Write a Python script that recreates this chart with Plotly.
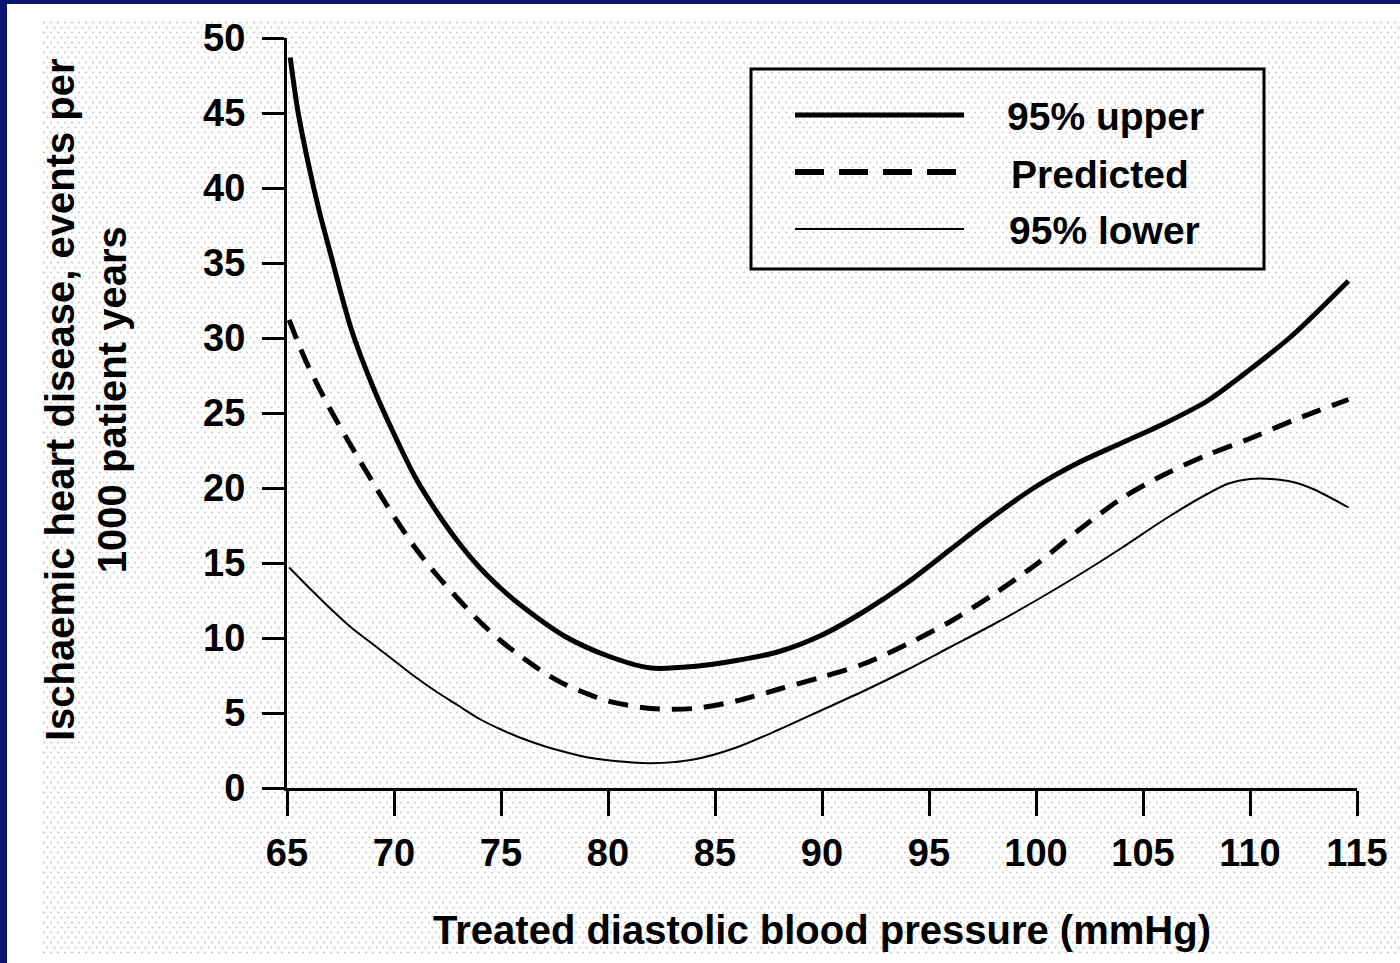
import base64
import plotly.graph_objects as go

# Treated diastolic blood pressure (mmHg) and ischaemic heart disease rate per 1000 patient years
bp_upper = [65.15, 65.5, 66, 66.5, 67, 68, 69, 70, 71, 72, 73, 74, 75, 76, 78, 80, 82, 84,
            86, 88, 90, 92, 94, 96, 98, 100, 102, 104, 106, 108, 110, 112, 114.6]
upper_95 = [48.7, 45.2, 41.6, 38.5, 35.8, 30.6, 26.8, 23.6, 20.7, 18.4, 16.4, 14.7, 13.3, 12.1,
            10.1, 8.8, 8.0, 8.1, 8.5, 9.1, 10.2, 11.8, 13.7, 15.9, 18.1, 20.1, 21.7, 23.0,
            24.3, 25.8, 27.9, 30.2, 33.8]

bp_pred = [65.1, 65.6, 66, 67, 68, 69, 70, 71, 72, 73, 74, 75, 76, 77, 78, 79, 80, 82, 84,
           86, 88, 90, 92, 94, 96, 98, 100, 102, 104, 106, 108, 110, 112, 114.6]
predicted = [31.2, 29.4, 28.1, 25.3, 22.8, 20.4, 18.1, 16.0, 14.2, 12.6, 11.1, 9.8, 8.7, 7.7,
             6.9, 6.3, 5.8, 5.3, 5.3, 5.8, 6.6, 7.4, 8.3, 9.6, 11.1, 12.9, 14.9, 17.2,
             19.3, 20.9, 22.2, 23.3, 24.5, 25.9]

bp_lower = [65.1, 66, 67, 68, 69, 70, 71, 72, 73, 74, 75, 76, 77, 78, 79, 80, 82, 84, 86, 88,
            90, 92, 94, 96, 98, 100, 102, 104, 106, 108, 109, 110, 111, 112, 113, 114.6]
lower_95 = [14.7, 13.4, 12.0, 10.7, 9.6, 8.5, 7.4, 6.4, 5.5, 4.6, 3.9, 3.3, 2.8, 2.4, 2.05, 1.85,
            1.65, 1.9, 2.7, 3.9, 5.2, 6.5, 7.9, 9.4, 10.9, 12.5, 14.2, 16.0, 17.9, 19.6, 20.3,
            20.6, 20.6, 20.4, 19.9, 18.7]

series_names = ["95% upper", "Predicted", "95% lower"]

x_ticks = [65, 70, 75, 80, 85, 90, 95, 100, 105, 110, 115]
y_ticks = [0, 5, 10, 15, 20, 25, 30, 35, 40, 45, 50]

W, H = 1400, 963
L, R, T, B = 287, 43, 38, 175
PW, PH = W - L - R, H - T - B

FONT = "Liberation Sans, Arial, Helvetica, sans-serif"


def px_x(p):
    return (p - L) / PW


def px_y(p):
    return (H - B - p) / PH


# slide background: navy frame, white page, light dotted screen
svg = f"""<svg xmlns='http://www.w3.org/2000/svg' width='{W}' height='{H}'>
<defs><pattern id='d' width='7' height='10' patternUnits='userSpaceOnUse'>
<circle cx='2' cy='2.5' r='1' fill='#c4c4c4'/><circle cx='5.5' cy='7.5' r='1' fill='#c4c4c4'/>
</pattern></defs>
<rect width='{W}' height='{H}' fill='#0b1470'/>
<rect x='7' y='4' width='{W-7}' height='{H-4}' fill='#ffffff'/>
<rect x='42' y='20' width='{W-42}' height='935' fill='url(#d)'/>
</svg>"""
bg_src = "data:image/svg+xml;base64," + base64.b64encode(svg.encode()).decode()

styles = [
    dict(color="black", width=5),
    dict(color="black", width=5, dash="20px,12px"),
    dict(color="black", width=2),
]

fig = go.Figure()
for xs, ys, name, st in zip([bp_upper, bp_pred, bp_lower], [upper_95, predicted, lower_95],
                            series_names, styles):
    fig.add_trace(go.Scatter(x=xs, y=ys, name=name, mode="lines", showlegend=False,
                             line=dict(shape="spline", smoothing=0.8, **st)))

# key box drawn on the paper: frame, line samples and labels
shapes = [dict(type="rect", xref="paper", yref="paper",
               x0=px_x(751), x1=px_x(1264), y0=px_y(69), y1=px_y(269),
               line=dict(color="black", width=3), fillcolor="rgba(0,0,0,0)")]
key_rows = [115, 172, 229]
key_styles = [
    dict(color="black", width=5),
    dict(color="black", width=6, dash="29px,15px"),
    dict(color="black", width=2),
]
key_text_x = [1005, 1009, 1007]
annotations = []
for name, ry, st, tx in zip(series_names, key_rows, key_styles, key_text_x):
    shapes.append(dict(type="line", xref="paper", yref="paper",
                       x0=px_x(795), x1=px_x(964), y0=px_y(ry), y1=px_y(ry), line=st))
    annotations.append(dict(text=name, xref="paper", yref="paper", x=px_x(tx), y=px_y(ry + 2),
                            xanchor="left", yanchor="middle", showarrow=False,
                            font=dict(size=39, family=FONT, weight="bold")))

annotations.append(dict(text="Ischaemic heart disease, events per<br>1000 patient years",
                        xref="paper", yref="paper", x=px_x(86), y=px_y(400),
                        xanchor="center", yanchor="middle", textangle=-90, showarrow=False,
                        font=dict(size=40, family=FONT, weight="bold")))

fig.update_layout(
    width=W, height=H,
    margin=dict(l=L, r=R, t=T, b=B, pad=0),
    paper_bgcolor="white",
    plot_bgcolor="rgba(0,0,0,0)",
    font=dict(family=FONT, size=38, color="black", weight="bold"),
    showlegend=False,
    images=[dict(source=bg_src, xref="paper", yref="paper", x=px_x(0), y=px_y(0),
                 sizex=W / PW, sizey=H / PH, xanchor="left", yanchor="top",
                 sizing="stretch", layer="below")],
    xaxis=dict(range=[65, 115], tickvals=x_ticks, ticks="outside", ticklen=25, tickwidth=3,
               tickcolor="black", showline=True, linewidth=3, linecolor="black",
               showgrid=False, zeroline=False, ticklabelstandoff=4,
               tickfont=dict(size=38, family=FONT, weight="bold"),
               title=dict(text="Treated diastolic blood pressure (mmHg)", standoff=44,
                          font=dict(size=40, family=FONT, weight="bold"))),
    yaxis=dict(range=[0, 50], tickvals=y_ticks, ticks="outside", ticklen=22, tickwidth=3,
               tickcolor="black", showline=True, linewidth=3, linecolor="black",
               showgrid=False, zeroline=False, ticklabelstandoff=9,
               tickfont=dict(size=38, family=FONT, weight="bold")),
    shapes=shapes,
    annotations=annotations,
)

fig.write_html("out.html")
